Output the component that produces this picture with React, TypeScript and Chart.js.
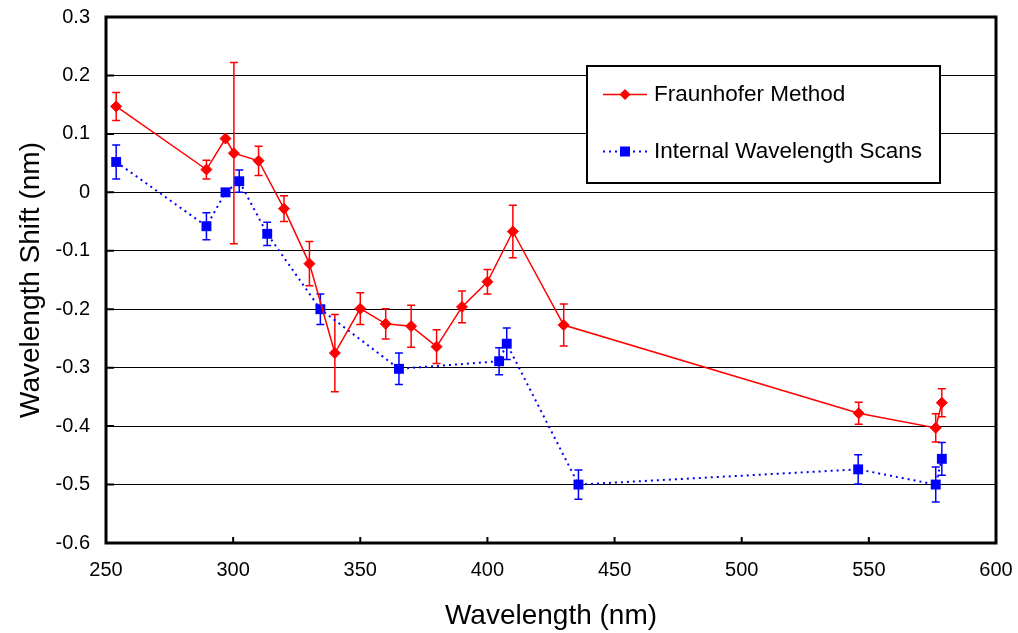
import React, { useEffect, useRef } from "react";
import { Chart, registerables } from "chart.js";

Chart.register(...registerables);

const fraunhoferX = [254, 289.5, 297, 300.3, 310, 320, 330, 340, 350, 360, 370, 380, 390, 400, 410, 430, 546, 576.3, 578.7];
const fraunhoferY = [0.147, 0.039, 0.092, 0.067, 0.054, -0.028, -0.122, -0.275, -0.199, -0.225, -0.229, -0.264, -0.196, -0.153, -0.067, -0.227, -0.378, -0.403, -0.36];
const fraunhoferErr = [0.024, 0.016, 0, 0.155, 0.025, 0.022, 0.038, 0.066, 0.027, 0.026, 0.036, 0.029, 0.027, 0.021, 0.045, 0.036, 0.019, 0.024, 0.024];

const internalX = [254, 289.5, 297, 302.4, 313.4, 334.3, 365.2, 404.6, 407.6, 435.8, 545.8, 576.3, 578.7];
const internalY = [0.052, -0.058, 0, 0.019, -0.071, -0.2, -0.302, -0.289, -0.259, -0.5, -0.474, -0.5, -0.456];
const internalErr = [0.029, 0.023, 0, 0.019, 0.02, 0.026, 0.027, 0.023, 0.027, 0.025, 0.025, 0.03, 0.028];

const seriesLabels = ["Fraunhofer Method", "Internal Wavelength Scans"];
const xTitle = "Wavelength (nm)";
const yTitle = "Wavelength Shift (nm)";

const RED = "#FF0000";
const BLUE = "#0000FF";
const FONT = '"Liberation Sans", Arial, sans-serif';

const decorPlugin = {
  id: "decor",
  beforeDatasetsDraw(chart: any) {
    const { ctx, scales } = chart;
    const x = scales.x;
    const y = scales.y;
    const drawErr = (xs: number[], ys: number[], es: number[], color: string) => {
      ctx.save();
      ctx.strokeStyle = color;
      ctx.lineWidth = 1.5;
      for (let i = 0; i < xs.length; i++) {
        if (!es[i]) continue;
        const px = x.getPixelForValue(xs[i]);
        const top = y.getPixelForValue(ys[i] + es[i]);
        const bot = y.getPixelForValue(ys[i] - es[i]);
        ctx.beginPath();
        ctx.moveTo(px, top);
        ctx.lineTo(px, bot);
        ctx.moveTo(px - 4, top);
        ctx.lineTo(px + 4, top);
        ctx.moveTo(px - 4, bot);
        ctx.lineTo(px + 4, bot);
        ctx.stroke();
      }
      ctx.restore();
    };
    drawErr(internalX, internalY, internalErr, BLUE);
    drawErr(fraunhoferX, fraunhoferY, fraunhoferErr, RED);
  },
  afterDatasetsDraw(chart: any) {
    const { ctx, chartArea: a, scales } = chart;
    const x = scales.x;
    const y = scales.y;
    ctx.save();
    // inside tick marks
    ctx.strokeStyle = "#000";
    ctx.lineWidth = 2;
    ctx.beginPath();
    y.ticks.forEach((t: any) => {
      const py = y.getPixelForValue(t.value);
      ctx.moveTo(a.left, py);
      ctx.lineTo(a.left + 8, py);
    });
    x.ticks.forEach((t: any) => {
      const px = x.getPixelForValue(t.value);
      ctx.moveTo(px, a.bottom);
      ctx.lineTo(px, a.bottom - 6);
    });
    ctx.stroke();
    // border box
    ctx.lineWidth = 3;
    ctx.strokeRect(a.left, a.top, a.right - a.left, a.bottom - a.top);

    // legend
    const lx = 587, ly = 66, lw = 353, lh = 117;
    ctx.fillStyle = "#fff";
    ctx.fillRect(lx, ly, lw, lh);
    ctx.lineWidth = 2;
    ctx.strokeStyle = "#000";
    ctx.strokeRect(lx, ly, lw, lh);

    const rows = [ly + 28.5, ly + 85.5];
    // red row
    ctx.strokeStyle = RED;
    ctx.lineWidth = 1.5;
    ctx.beginPath();
    ctx.moveTo(603, rows[0]);
    ctx.lineTo(647, rows[0]);
    ctx.stroke();
    ctx.fillStyle = RED;
    ctx.beginPath();
    ctx.moveTo(625 - 5.5, rows[0]);
    ctx.lineTo(625, rows[0] - 5.5);
    ctx.lineTo(625 + 5.5, rows[0]);
    ctx.lineTo(625, rows[0] + 5.5);
    ctx.closePath();
    ctx.fill();
    // blue row
    ctx.strokeStyle = BLUE;
    ctx.lineWidth = 2;
    ctx.setLineDash([2, 4]);
    ctx.beginPath();
    ctx.moveTo(603, rows[1]);
    ctx.lineTo(647, rows[1]);
    ctx.stroke();
    ctx.setLineDash([]);
    ctx.fillStyle = BLUE;
    ctx.fillRect(625 - 5, rows[1] - 5, 10, 10);

    ctx.fillStyle = "#000";
    ctx.font = `22.5px ${FONT}`;
    ctx.textBaseline = "middle";
    ctx.textAlign = "left";
    ctx.fillText(seriesLabels[0], 654, rows[0]);
    ctx.fillText(seriesLabels[1], 654, rows[1]);
    ctx.restore();
  },
};

export default function App() {
  const ref = useRef<HTMLCanvasElement | null>(null);
  useEffect(() => {
    if (!ref.current) return;
    const chart = new Chart(ref.current, {
      type: "line",
      data: {
        datasets: [
          {
            label: seriesLabels[0],
            data: fraunhoferX.map((v, i) => ({ x: v, y: fraunhoferY[i] })),
            borderColor: RED,
            backgroundColor: RED,
            borderWidth: 1.5,
            pointStyle: "rectRot",
            pointRadius: 5.5,
            pointBorderWidth: 1,
            pointBackgroundColor: RED,
            pointBorderColor: RED,
            tension: 0,
          },
          {
            label: seriesLabels[1],
            data: internalX.map((v, i) => ({ x: v, y: internalY[i] })),
            borderColor: BLUE,
            backgroundColor: BLUE,
            borderWidth: 2,
            borderDash: [2, 4],
            pointStyle: "rect",
            pointRadius: 7,
            pointBorderWidth: 0,
            pointBackgroundColor: BLUE,
            pointBorderColor: BLUE,
            tension: 0,
          },
        ],
      },
      options: {
        animation: false,
        responsive: false,
        maintainAspectRatio: false,
        layout: { padding: { left: 0, right: 22, top: 17, bottom: 0 } },
        plugins: {
          legend: { display: false },
          tooltip: { enabled: false },
        },
        scales: {
          x: {
            type: "linear",
            min: 250,
            max: 600,
            afterFit: (s: any) => {
              s.height = 90;
              s.paddingLeft = 0;
              s.paddingRight = 0;
              s.paddingTop = 0;
              s.paddingBottom = 0;
            },
            ticks: {
              stepSize: 50,
              color: "#000",
              padding: 15,
              font: { family: FONT, size: 20 },
            },
            grid: { display: false, drawTicks: false },
            border: { display: false },
            title: {
              display: true,
              text: xTitle,
              color: "#000",
              font: { family: FONT, size: 28 },
              padding: { top: 4, bottom: 0 },
            },
          },
          y: {
            type: "linear",
            min: -0.6,
            max: 0.3,
            afterFit: (s: any) => {
              s.width = 106;
              s.paddingLeft = 0;
              s.paddingRight = 0;
              s.paddingTop = 0;
              s.paddingBottom = 0;
            },
            ticks: {
              stepSize: 0.1,
              color: "#000",
              padding: 16,
              font: { family: FONT, size: 20 },
              callback: (v: any) => {
                const n = Math.round(Number(v) * 10) / 10;
                return Math.abs(n) < 1e-9 ? "0" : String(n);
              },
            },
            grid: { color: "#000", lineWidth: 1, drawTicks: false },
            border: { display: false },
            title: {
              display: true,
              text: yTitle,
              color: "#000",
              font: { family: FONT, size: 28 },
              padding: { top: 14, bottom: 0 },
            },
          },
        },
      },
      plugins: [decorPlugin],
    });
    return () => chart.destroy();
  }, []);
  return (
    <div style={{ position: "fixed", left: 0, top: 0, width: 1018, height: 633, background: "#fff" }}>
      <canvas ref={ref} width={1018} height={633} style={{ display: "block" }} />
    </div>
  );
}
